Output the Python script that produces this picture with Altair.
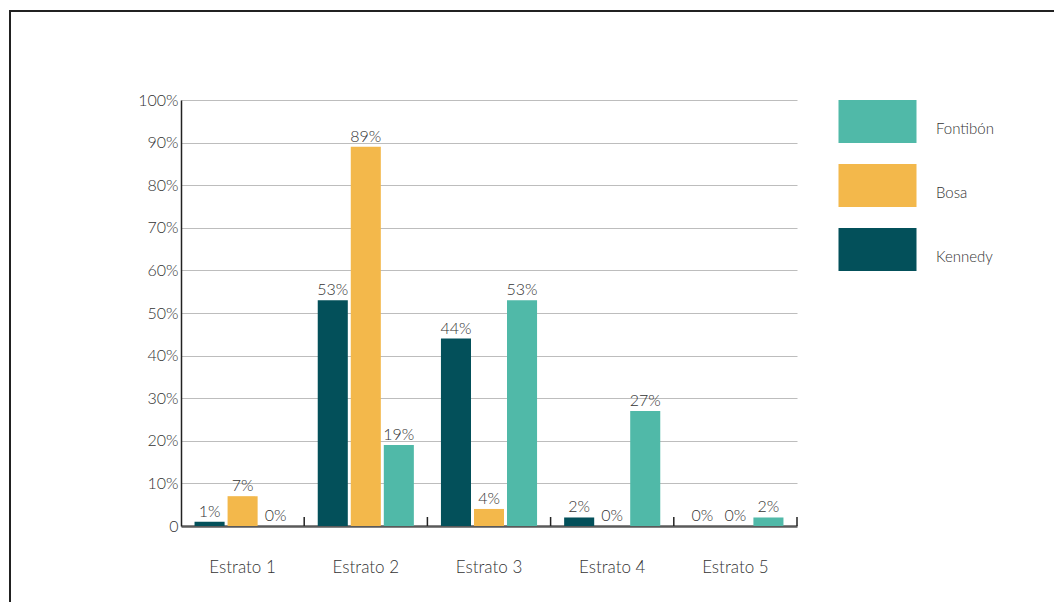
import altair as alt
import pandas as pd

categories = ["Estrato 1", "Estrato 2", "Estrato 3", "Estrato 4", "Estrato 5"]
series = ["Kennedy", "Bosa", "Fontibón"]
kennedy = [1, 53, 44, 2, 0]
bosa = [7, 89, 4, 0, 0]
fontibon = [0, 19, 53, 27, 2]
colors = ["#03505a", "#f3b84b", "#50b9a8"]
legend_order = ["Fontibón", "Bosa", "Kennedy"]
y_ticks = [0, 10, 20, 30, 40, 50, 60, 70, 80, 90, 100]

rows = []
for name, vals in zip(series, [kennedy, bosa, fontibon]):
    for c, v in zip(categories, vals):
        rows.append({"cat": c, "serie": name, "val": v, "label": f"{v}%"})
df = pd.DataFrame(rows)
cats_df = pd.DataFrame({"cat": categories})

FONT = "Lato"
FW = 300
TXT = "#333333"
W, H = 616, 426

xscale = alt.Scale(domain=categories, paddingInner=0, paddingOuter=0)
yscale = alt.Scale(domain=[0, 100], nice=False)
xoff = alt.XOffset("serie:N", sort=series,
                   scale=alt.Scale(domain=series, paddingInner=0.09, paddingOuter=0.41))

base = alt.Chart(df)

bars = base.mark_bar().encode(
    x=alt.X("cat:N", sort=categories, scale=xscale,
            axis=alt.Axis(title=None, labelAngle=0, labelFontSize=17, labelColor=TXT,
                          labelFont=FONT, labelFontWeight=FW, labelPadding=33, ticks=False,
                          domainColor="#5a5a5a", domainWidth=2.5)),
    xOffset=xoff,
    y=alt.Y("val:Q", scale=yscale,
            axis=alt.Axis(title=None, values=y_ticks,
                          labelExpr="datum.value == 0 ? '0' : datum.value + '%'",
                          labelFontSize=16, labelColor=TXT, labelFont=FONT,
                          labelFontWeight=FW,
                          labelPadding=3, ticks=False, domainColor="#222", domainWidth=1.5,
                          gridColor="#bdbdbd", gridWidth=1)),
    color=alt.Color("serie:N", scale=alt.Scale(domain=series, range=colors),
                    legend=alt.Legend(title=None, orient="none", legendX=675, legendY=0,
                                      values=legend_order,
                                      symbolType="M-1.814,-1L1.814,-1L1.814,1L-1.814,1Z",
                                      symbolSize=1849, symbolStrokeWidth=0, symbolOpacity=1,
                                      labelFont=FONT, labelFontSize=15, labelColor=TXT,
                                      labelFontWeight=FW, labelBaseline="top",
                                      labelOffset=37, rowPadding=21, padding=0)),
)

texts = base.mark_text(baseline="bottom", dy=-2, fontSize=16, color=TXT, font=FONT,
                       fontWeight=FW).encode(
    x=alt.X("cat:N", sort=categories, scale=xscale),
    xOffset=xoff,
    y=alt.Y("val:Q", scale=yscale),
    text="label:N",
)

ticks = alt.Chart(cats_df).mark_rule(color="#222", strokeWidth=1.5).encode(
    x=alt.X("cat:N", sort=categories, scale=xscale, bandPosition=1),
    y=alt.value(H - 9),
    y2=alt.value(H),
)

frame = alt.Chart(cats_df).mark_rect(fill=None, stroke="#222", strokeWidth=1.5).encode(
    x=alt.value(-171), x2=alt.value(900), y=alt.value(-89), y2=alt.value(520),
)

chart = alt.layer(frame, bars, texts, ticks).properties(
    width=W, height=H,
    autosize=alt.AutoSizeParams(type="none"),
    padding={"left": 173, "top": 92, "right": 257, "bottom": 76},
).configure_view(stroke=None).configure_axis(gridColor="#bdbdbd")

chart.save("out.html", embed_options={"renderer": "svg", "actions": False})
